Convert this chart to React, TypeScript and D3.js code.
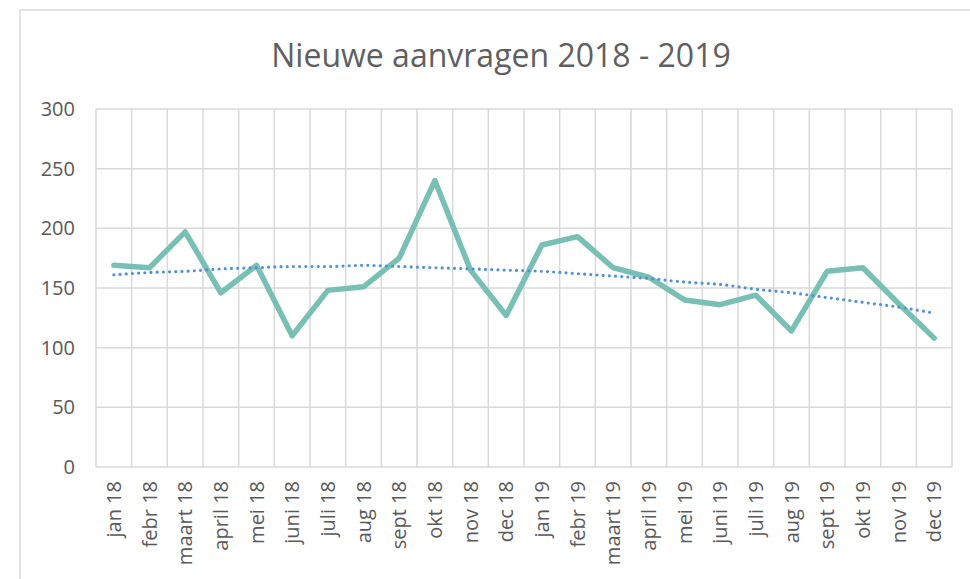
import { useEffect, useRef } from "react"
import * as d3 from "d3"

const months = [
  "jan 18", "febr 18", "maart 18", "april 18", "mei 18", "juni 18",
  "juli 18", "aug 18", "sept 18", "okt 18", "nov 18", "dec 18",
  "jan 19", "febr 19", "maart 19", "april 19", "mei 19", "juni 19",
  "juli 19", "aug 19", "sept 19", "okt 19", "nov 19", "dec 19",
]

const aanvragen = [
  169, 167, 197, 146, 169, 110, 148, 151, 175, 240, 165, 127,
  186, 193, 167, 159, 140, 136, 144, 114, 164, 167, 137, 108,
]

// dotted trendline
const trend = [
  161, 163, 164, 166, 167, 168, 168, 169, 168, 167, 166, 165,
  164, 162, 160, 158, 155, 153, 149, 146, 142, 138, 134, 129,
]

const yTicks = [0, 50, 100, 150, 200, 250, 300]

const title = "Nieuwe aanvragen 2018 - 2019"

export default function App() {
  const svgRef = useRef<SVGSVGElement>(null)

  useEffect(() => {
    if (!svgRef.current) return
    const svg = d3.select(svgRef.current)
    svg.selectAll("*").remove()

    const width = 970
    const height = 579
    const margin = { top: 109, right: 18, bottom: 112, left: 96 }
    const innerWidth = width - margin.left - margin.right
    const innerHeight = height - margin.top - margin.bottom
    const font = "'Open Sans', sans-serif"
    const textColor = "#595959"
    const gridColor = "#d9d9d9"

    // chart frame
    svg
      .append("rect")
      .attr("x", 20)
      .attr("y", 10)
      .attr("width", 980)
      .attr("height", 600)
      .attr("fill", "#fff")
      .attr("stroke", gridColor)
      .attr("stroke-width", 1.5)

    svg
      .append("text")
      .attr("x", 501)
      .attr("y", 67)
      .attr("text-anchor", "middle")
      .attr("font-family", font)
      .attr("font-size", 32)
      .attr("fill", "#5f5f5f")
      .text(title)

    const g = svg.append("g").attr("transform", `translate(${margin.left},${margin.top})`)

    const x = d3.scaleBand<string>().domain(months).range([0, innerWidth])
    const y = d3.scaleLinear().domain([0, 300]).range([innerHeight, 0])
    const cx = (i: number) => x(months[i])! + x.bandwidth() / 2

    // horizontal grid
    g.append("g")
      .selectAll("line")
      .data(yTicks)
      .enter()
      .append("line")
      .attr("x1", 0)
      .attr("x2", innerWidth)
      .attr("y1", (d) => y(d))
      .attr("y2", (d) => y(d))
      .attr("stroke", gridColor)
      .attr("stroke-width", 1.5)

    // vertical grid at band edges
    const edges = months.map((m) => x(m)!).concat([innerWidth])
    g.append("g")
      .selectAll("line")
      .data(edges)
      .enter()
      .append("line")
      .attr("x1", (d) => d)
      .attr("x2", (d) => d)
      .attr("y1", 0)
      .attr("y2", innerHeight)
      .attr("stroke", gridColor)
      .attr("stroke-width", 1.5)

    // y labels
    g.append("g")
      .selectAll("text")
      .data(yTicks)
      .enter()
      .append("text")
      .attr("x", -21)
      .attr("y", (d) => y(d))
      .attr("dy", "0.35em")
      .attr("text-anchor", "end")
      .attr("font-family", font)
      .attr("font-size", 20)
      .attr("fill", textColor)
      .text((d) => d)

    // x labels
    g.append("g")
      .selectAll("text")
      .data(months)
      .enter()
      .append("text")
      .attr("transform", (_d, i) => `translate(${cx(i)},${innerHeight + 14}) rotate(-90)`)
      .attr("dy", "0.35em")
      .attr("text-anchor", "end")
      .attr("font-family", font)
      .attr("font-size", 20)
      .attr("fill", textColor)
      .text((d) => d)

    const line = d3
      .line<number>()
      .x((_d, i) => cx(i))
      .y((d) => y(d))

    g.append("path")
      .datum(aanvragen)
      .attr("fill", "none")
      .attr("stroke", "#78c0b5")
      .attr("stroke-width", 5.5)
      .attr("stroke-linejoin", "round")
      .attr("stroke-linecap", "round")
      .attr("d", line)

    g.append("path")
      .datum(trend)
      .attr("fill", "none")
      .attr("stroke", "#4f92dc")
      .attr("stroke-width", 3.2)
      .attr("stroke-linecap", "round")
      .attr("stroke-dasharray", "0 6.2")
      .attr("d", line.curve(d3.curveMonotoneX))
  }, [])

  return (
    <svg
      ref={svgRef}
      width={970}
      height={579}
      style={{ position: "absolute", left: 0, top: 0, background: "#fff" }}
    />
  )
}
